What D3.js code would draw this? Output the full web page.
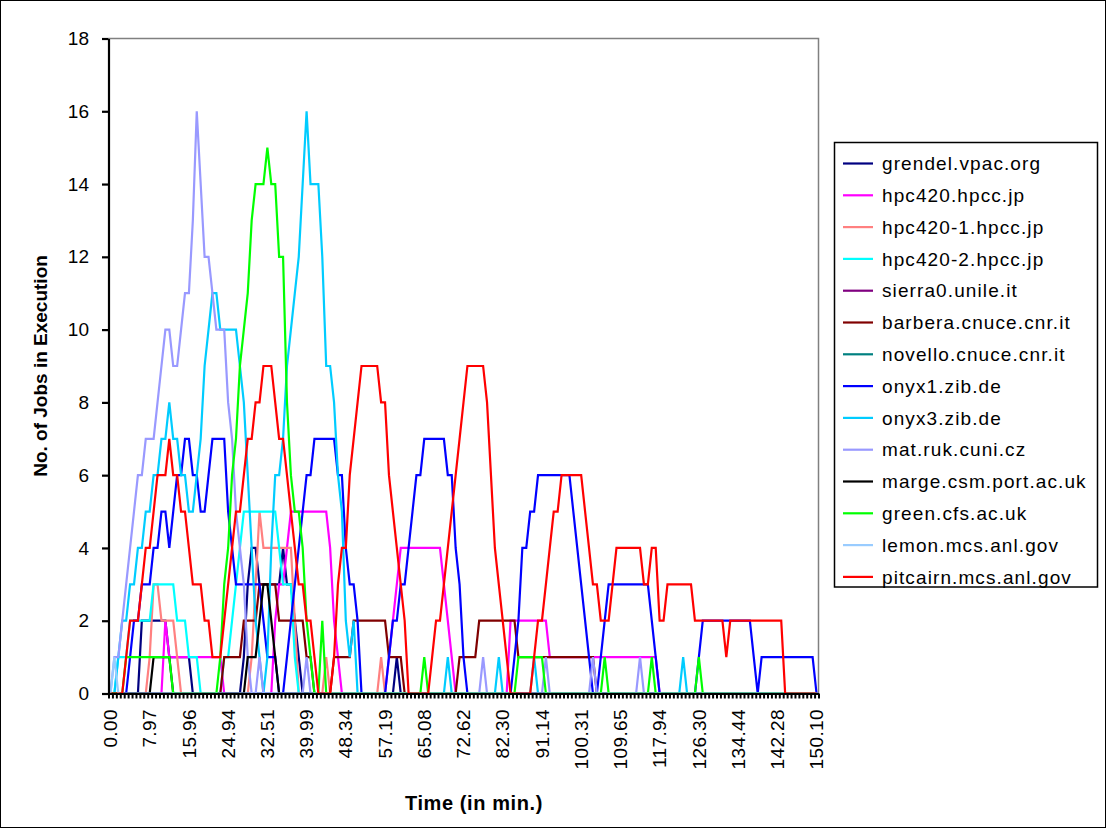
<!DOCTYPE html>
<html>
<head>
<meta charset="utf-8">
<script src="https://cdn.jsdelivr.net/npm/d3@7"></script>
<style>
body { margin: 0; background: #fff; }
svg text { font-family: "Liberation Sans", Arial, sans-serif; fill: #000; }
</style>
</head>
<body>
<svg id="chart" width="1106" height="828"></svg>
<script>
// x labels, one every 10 samples
const tickLabels = ["0.00","7.97","15.96","24.94","32.51","39.99","48.34","57.19","65.08","72.62",
  "82.30","91.14","100.31","109.65","117.94","126.30","134.44","142.28","150.10"];

const seriesNames = ["grendel.vpac.org","hpc420.hpcc.jp","hpc420-1.hpcc.jp","hpc420-2.hpcc.jp",
  "sierra0.unile.it","barbera.cnuce.cnr.it","novello.cnuce.cnr.it","onyx1.zib.de","onyx3.zib.de",
  "mat.ruk.cuni.cz","marge.csm.port.ac.uk","green.cfs.ac.uk","lemon.mcs.anl.gov","pitcairn.mcs.anl.gov"];
const seriesColors = ["#000080","#FF00FF","#FF8080","#00FFFF","#800080","#800000","#008080",
  "#0000FF","#00CCFF","#9999FF","#000000","#00FF00","#99CCFF","#FF0000"];

const grendel = [0,0,0,0,0,0,0,0,
  2,2,2,2,2,2,2,1,1,1, 1,1,1,0,0,0,0,0,0,0, 0,0,0,0,0,0,1,3,4,4, 3,3,3,3,3,3,4,3,3,2,
  1,0,0,0,0,0,0,0,0,0, 0,0,0,0,0,0,0,0,0,0, 0,0,0,0,0,1,0,0,0,0, 0,0,0,0,0,0,0,0,0,0,
  0,0,0,0,0,0,0,0,0,0, 0,0,0,0,0,0,0,0,0,0, 0,0,0,0,0,0,0,0,0,0, 0,0,0,0,0,0,0,0,0,0,
  0,0,0,0,0,0,0,0,0,0, 0,0,0,0,0,0,0,0,0,0, 0,0,0,0,0,0,0,0,0,0, 0,0,0,0,0,0,0,0,0,0,
  0,0,0,0,0,0,0,0,0,0, 0,0,0];
const hpc420 = [0,0,0,0,0,0,0,0,
  0,0,0,0,0,0,2,1,1,1, 1,1,1,1,1,1,1,1,1,1, 1,0,0,0,0,0,0,0,0,0, 0,0,0,0,2,3,3,4,5,5,
  5,5,5,5,5,5,5,5,4,2, 1,0,0,0,0,0,0,0,0,0, 0,0,0,1,2,3,4,4,4,4, 4,4,4,4,4,4,4,3,2,1,
  0,0,0,0,0,0,0,0,0,0, 0,0,0,0,2,2,2,2,2,2, 2,2,2,2,1,1,1,1,1,1, 1,1,1,1,1,1,1,1,1,1,
  1,1,1,1,1,1,1,1,1,1, 1,1,0,0,0,0,0,0,0,0, 0,0,0,0,0,0,0,0,0,0, 0,0,0,0,0,0,0,0,0,0,
  0,0,0,0,0,0,0,0,0,0, 0,0,0];
const hpc420_1 = [0,0,0,0,0,0,0,0,
  0,0,1,3,3,2,2,2,2,1, 0,0,0,0,0,0,0,0,0,0, 0,0,0,0,0,0,0,0,1,3, 5,4,4,4,4,4,4,4,4,2,
  0,0,0,0,0,0,0,1,0,0, 0,0,0,0,0,0,0,0,0,0, 0,1,0,0,0,0,0,0,0,0, 0,0,0,0,0,0,0,0,0,0,
  0,0,0,0,0,0,0,0,0,0, 0,0,0,0,0,0,0,0,0,0, 0,0,0,0,0,0,0,0,0,0, 0,0,0,0,0,0,0,0,0,0,
  0,0,0,0,0,0,0,0,0,0, 0,0,0,0,0,0,0,0,0,0, 0,0,0,0,0,0,0,0,0,0, 0,0,0,0,0,0,0,0,0,0,
  0,0,0,0,0,0,0,0,0,0, 0,0,0];
const hpc420_2 = [0,0,1,1,1,2,2,2,
  2,2,2,3,3,3,3,3,3,2, 2,2,1,1,1,0,0,0,0,0, 0,1,1,2,3,4,5,5,5,5, 5,5,5,5,5,4,3,3,3,1,
  0,0,0,0,0,0,0,0,0,0, 0,0,0,0,0,0,0,0,0,0, 0,0,0,0,0,0,0,0,0,0, 0,0,0,0,0,0,0,0,0,0,
  0,0,0,0,0,0,0,0,0,0, 0,0,0,0,0,0,0,0,0,0, 0,0,0,0,0,0,0,0,0,0, 0,0,0,0,0,0,0,0,0,0,
  0,0,0,0,0,0,0,0,0,0, 0,0,0,0,0,0,0,0,0,0, 0,0,0,0,0,0,0,0,0,0, 0,0,0,0,0,0,0,0,0,0,
  0,0,0,0,0,0,0,0,0,0, 0,0,0];
const sierra0 = [0,0,0,0,0,0,0,0,
  0,0,0,0,0,0,0,0,0,0, 0,0,0,0,0,0,0,0,0,0, 0,0,0,0,0,0,0,0,0,0, 0,0,0,0,0,0,0,0,0,0,
  0,0,0,0,0,0,0,0,0,0, 0,0,0,0,0,0,0,0,0,0, 0,0,0,0,0,0,0,0,0,0, 0,0,0,0,0,0,0,0,0,0,
  0,0,0,0,0,0,0,0,0,0, 0,0,0,0,0,0,0,0,0,0, 0,0,0,0,0,0,0,0,0,0, 0,0,0,0,0,0,0,0,0,0,
  0,0,0,0,0,0,0,0,0,0, 0,0,0,0,0,0,0,0,0,0, 0,0,0,0,0,0,0,0,0,0, 0,0,0,0,0,0,0,0,0,0,
  0,0,0,0,0,0,0,0,0,0, 0,0,0];
const barbera = [0,0,0,0,0,0,0,0,
  0,0,0,0,0,0,0,0,0,0, 0,0,0,0,0,0,0,0,0,0, 0,1,1,1,1,1,2,2,2,2, 3,3,3,3,3,2,2,2,2,2,
  2,2,1,1,0,0,0,0,0,1, 1,1,1,1,2,2,2,2,2,2, 2,2,2,1,1,1,1,0,0,0, 0,0,0,0,0,0,0,0,0,0,
  0,1,1,1,1,1,2,2,2,2, 2,2,2,2,2,2,1,1,1,1, 1,1,1,1,1,1,1,1,1,1, 1,1,1,1,1,1,0,0,0,0,
  0,0,0,0,0,0,0,0,0,0, 0,0,0,0,0,0,0,0,0,0, 0,0,0,0,0,0,0,0,0,0, 0,0,0,0,0,0,0,0,0,0,
  0,0,0,0,0,0,0,0,0,0, 0,0,0];
const novello = [0,0,0,0,0,0,0,0,
  0,0,0,0,0,0,0,0,0,0, 0,0,0,0,0,0,0,0,0,0, 0,0,0,0,0,0,0,0,0,0, 0,0,0,0,0,0,0,0,0,0,
  0,0,0,0,0,0,0,0,0,0, 0,0,0,0,0,0,0,0,0,0, 0,0,0,0,0,0,0,0,0,0, 0,0,0,0,0,0,0,0,0,0,
  0,0,0,0,0,0,0,0,0,0, 0,0,0,0,0,0,0,0,0,0, 0,0,0,0,0,0,0,0,0,0, 0,0,0,0,0,0,0,0,0,0,
  0,0,0,0,0,0,0,0,0,0, 0,0,0,0,0,0,0,0,0,0, 0,0,0,0,0,0,0,0,0,0, 0,0,0,0,0,0,0,0,0,0,
  0,0,0,0,0,0,0,0,0,0, 0,0,0];
const onyx1 = [0,0,0,0,0,1,2,2,
  3,3,3,4,4,5,5,4,5,6, 6,7,7,6,6,5,5,6,7,7, 7,7,5,4,3,3,3,3,3,3, 3,2,1,1,1,0,0,1,2,3,
  4,5,6,6,7,7,7,7,7,7, 6,6,4,3,3,2,0,0,0,0, 0,0,0,1,2,2,3,3,4,5, 6,6,7,7,7,7,7,7,6,6,
  4,3,1,0,0,0,0,0,0,0, 0,0,0,0,0,1,2,4,4,5, 5,6,6,6,6,6,6,6,6,6, 5,4,3,2,1,0,0,1,2,3,
  3,3,3,3,3,3,3,3,3,3, 2,1,0,0,0,0,0,0,0,0, 0,0,1,2,2,2,2,2,2,2, 2,2,2,2,2,2,1,0,1,1,
  1,1,1,1,1,1,1,1,1,1, 1,1,0];
const onyx3 = [0,0,1,2,2,3,3,4,
  4,5,5,6,6,7,7,8,7,7, 6,6,5,5,6,7,9,10,11,11, 10,10,10,10,10,9,8,6,4,2, 1,0,1,4,6,6,7,9,10,11,
  12,14,16,14,14,14,12,9,9,8, 6,5,2,1,2,0,0,0,0,0, 0,0,0,0,0,0,0,0,0,0, 0,0,0,0,0,0,0,0,1,0,
  0,0,0,0,0,0,0,0,0,0, 0,1,0,0,0,0,0,0,0,0, 1,0,0,0,0,0,0,0,0,0, 0,0,0,0,0,0,0,0,0,0,
  0,0,0,0,0,0,0,0,0,0, 0,0,0,0,0,0,0,0,1,0, 0,0,0,0,0,0,0,0,0,0, 0,0,0,0,0,0,0,0,0,0,
  0,0,0,0,0,0,0,0,0,0, 0,0,0];
const matRuk = [0,1,1,2,3,4,5,6,
  6,7,7,7,8,9,10,10,9,9, 10,11,11,13,16,14,12,12,11,10, 10,10,8,7,5,4,3,1,0,0, 1,0,0,0,0,0,0,0,0,0,
  0,0,1,0,0,0,0,0,0,0, 0,0,0,0,0,0,0,0,0,0, 0,0,0,0,0,0,0,0,0,0, 0,0,0,0,0,0,0,0,0,0,
  0,0,0,0,0,0,0,1,0,0, 0,0,0,0,0,0,0,0,0,0, 0,0,0,1,0,0,0,0,0,0, 0,0,0,0,0,1,0,0,0,0,
  0,0,0,0,0,0,0,1,0,0, 0,0,0,0,0,0,0,0,0,0, 0,0,0,0,0,0,0,0,0,0, 0,0,0,0,0,0,0,0,0,0,
  0,0,0,0,0,0,0,0,0,0, 0,0,0];
const marge = [0,0,0,0,0,0,0,0,
  0,0,0,1,1,1,1,1,0,0, 0,0,0,0,0,0,0,0,0,0, 0,0,0,0,0,0,0,1,1,1, 2,3,3,2,1,0,0,0,0,0,
  0,0,0,0,0,0,0,0,0,0, 0,0,0,0,0,0,0,0,0,0, 0,0,0,0,0,0,0,0,0,0, 0,0,0,0,0,0,0,0,0,0,
  0,0,0,0,0,0,0,0,0,0, 0,0,0,0,0,0,0,0,0,0, 0,0,0,0,0,0,0,0,0,0, 0,0,0,0,0,0,0,0,0,0,
  0,0,0,0,0,0,0,0,0,0, 0,0,0,0,0,0,0,0,0,0, 0,0,0,0,0,0,0,0,0,0, 0,0,0,0,0,0,0,0,0,0,
  0,0,0,0,0,0,0,0,0,0, 0,0,0];
const green = [0,0,0,0,1,1,1,1,
  1,1,1,1,1,1,1,1,0,0, 0,0,0,0,0,0,0,0,0,0, 1,3,4,6,7,9,10,11,13,14, 14,14,15,14,14,12,12,8,6,5,
  5,4,2,1,0,0,2,0,0,0, 0,0,0,0,0,0,0,0,0,0, 0,0,0,0,0,0,0,0,0,0, 0,0,1,0,0,0,0,0,0,0,
  0,0,0,0,0,0,0,0,0,0, 0,0,0,0,0,0,1,1,1,1, 1,1,1,0,0,0,0,0,0,0, 0,0,0,0,0,0,0,0,1,0,
  0,0,0,0,0,0,0,0,0,0, 1,0,0,0,0,0,0,0,0,0, 0,0,1,0,0,0,0,0,0,0, 0,0,0,0,0,0,0,0,0,0,
  0,0,0,0,0,0,0,0,0,0, 0,0,0];
const lemon = [0,1,0,0,0,0,0,0,
  0,0,0,0,0,0,0,0,0,0, 0,0,0,0,0,0,0,0,0,0, 0,0,0,0,0,0,0,0,0,0, 0,0,0,0,0,0,0,0,0,0,
  0,0,0,0,0,0,0,0,0,0, 0,0,0,0,0,0,0,0,0,0, 0,0,0,0,0,0,0,0,0,0, 0,0,0,0,0,0,0,0,0,0,
  0,0,0,0,0,0,0,0,0,0, 0,0,0,0,0,0,0,0,0,0, 0,0,0,0,0,0,0,0,0,0, 0,0,0,0,0,0,0,0,0,0,
  0,0,0,0,0,0,0,0,0,0, 0,0,0,0,0,0,0,0,0,0, 0,0,0,0,0,0,0,0,0,0, 0,0,0,0,0,0,0,0,0,0,
  0,0,0,0,0,0,0,0,0,0, 0,0,0];
const pitcairn = [0,0,0,0,1,2,2,2,
  3,4,4,5,6,6,6,7,6,6, 5,5,4,3,3,3,2,2,1,1, 1,2,3,4,5,5,6,7,7,8, 8,9,9,9,8,7,7,6,5,4,
  3,3,2,2,1,0,0,0,0,1, 3,4,4,6,7,8,9,9,9,9, 9,8,8,6,5,4,3,2,0,0, 0,0,0,0,1,2,2,3,4,5,
  6,7,8,9,9,9,9,9,8,6, 4,3,2,1,0,0,0,0,0,0, 1,2,2,3,4,5,5,6,6,6, 6,6,6,5,4,3,3,2,2,2,
  3,4,4,4,4,4,4,4,3,3, 4,4,2,2,3,3,3,3,3,3, 3,2,2,2,2,2,2,2,2,1, 2,2,2,2,2,2,2,2,2,2,
  2,2,2,2,0,0,0,0,0,0, 0,0,0];

const seriesValues = [grendel, hpc420, hpc420_1, hpc420_2, sierra0, barbera, novello,
  onyx1, onyx3, matRuk, marge, green, lemon, pitcairn];

const svg = d3.select("#chart");
const plotL = 108.5, plotR = 818.5, plotT = 38.5, plotB = 693.5;
const n = pitcairn.length;

const x = d3.scaleBand().domain(d3.range(n)).range([plotL, plotR]);
const xEdge = d3.scaleLinear().domain([0, n]).range([plotL, plotR]);
const y = d3.scaleLinear().domain([0, 18]).range([plotB, plotT]);
const cx = i => x(i) + x.bandwidth() / 2;

// outer frame
svg.append("rect").attr("x", 0.5).attr("y", 0.5).attr("width", 1105).attr("height", 827)
  .attr("fill", "#fff").attr("stroke", "#000").attr("stroke-width", 1);

// plot area border (top/right grey)
svg.append("path")
  .attr("d", `M${plotL},${plotT}H${plotR}V${plotB}`)
  .attr("fill", "none").attr("stroke", "#808080").attr("stroke-width", 1.5);

// series lines
const line = d3.line().x((d, i) => cx(i)).y(d => y(d));
svg.append("g").selectAll("path")
  .data(seriesValues)
  .join("path")
  .attr("d", d => line(d))
  .attr("fill", "none")
  .attr("stroke", (d, i) => seriesColors[i])
  .attr("stroke-width", 2.2)
  .attr("stroke-linejoin", "miter");

// y axis
const yAxis = svg.append("g")
  .attr("transform", `translate(${plotL},0)`)
  .call(d3.axisLeft(y).tickValues(d3.range(0, 19, 2)).tickSize(6.5).tickPadding(13).tickSizeOuter(0));
yAxis.select(".domain").attr("stroke", "#000").attr("stroke-width", 2.2);
yAxis.selectAll(".tick line").attr("stroke", "#000").attr("stroke-width", 2.2);
yAxis.selectAll("text").attr("font-size", 19).attr("font-family", "Liberation Sans, Arial, sans-serif");

// x axis: a tick at every category boundary
const xAxis = svg.append("g")
  .attr("transform", `translate(0,${plotB})`)
  .call(d3.axisBottom(xEdge).tickValues(d3.range(n + 1)).tickFormat("").tickSize(5).tickSizeOuter(0));
xAxis.select(".domain").attr("stroke", "#000").attr("stroke-width", 2.2);
xAxis.selectAll(".tick line").attr("stroke", "#000").attr("stroke-width", 2);

svg.append("g").selectAll("text")
  .data(tickLabels)
  .join("text")
  .attr("transform", (d, k) => `translate(${cx(k * 10)},709) rotate(-90)`)
  .attr("text-anchor", "end")
  .attr("dy", "0.35em")
  .attr("font-size", 19)
  .attr("letter-spacing", 0.4)
  .text(d => d);

// axis titles
svg.append("text")
  .attr("x", 474).attr("y", 810)
  .attr("text-anchor", "middle")
  .attr("font-size", 20).attr("font-weight", "bold").attr("letter-spacing", 0.6)
  .text("Time (in min.)");
svg.append("text")
  .attr("transform", `translate(47,${(plotT + plotB) / 2}) rotate(-90)`)
  .attr("text-anchor", "middle")
  .attr("font-size", 19).attr("font-weight", "bold")
  .text("No. of Jobs in Execution");

// legend
const legend = svg.append("g");
legend.append("rect").attr("x", 834.5).attr("y", 142.5).attr("width", 263).attr("height", 444.5)
  .attr("fill", "#fff").attr("stroke", "#000").attr("stroke-width", 1.5);
const item = legend.selectAll("g.item")
  .data(seriesNames)
  .join("g")
  .attr("class", "item")
  .attr("transform", (d, i) => `translate(0,${163.5 + i * 31.8})`);
item.append("line").attr("x1", 843).attr("x2", 873).attr("y1", 0).attr("y2", 0)
  .attr("stroke", (d, i) => seriesColors[i]).attr("stroke-width", 2.2);
item.append("text").attr("x", 882).attr("dy", "0.35em")
  .attr("font-size", 19).attr("letter-spacing", 1.1)
  .text(d => d);
</script>
</body>
</html>
